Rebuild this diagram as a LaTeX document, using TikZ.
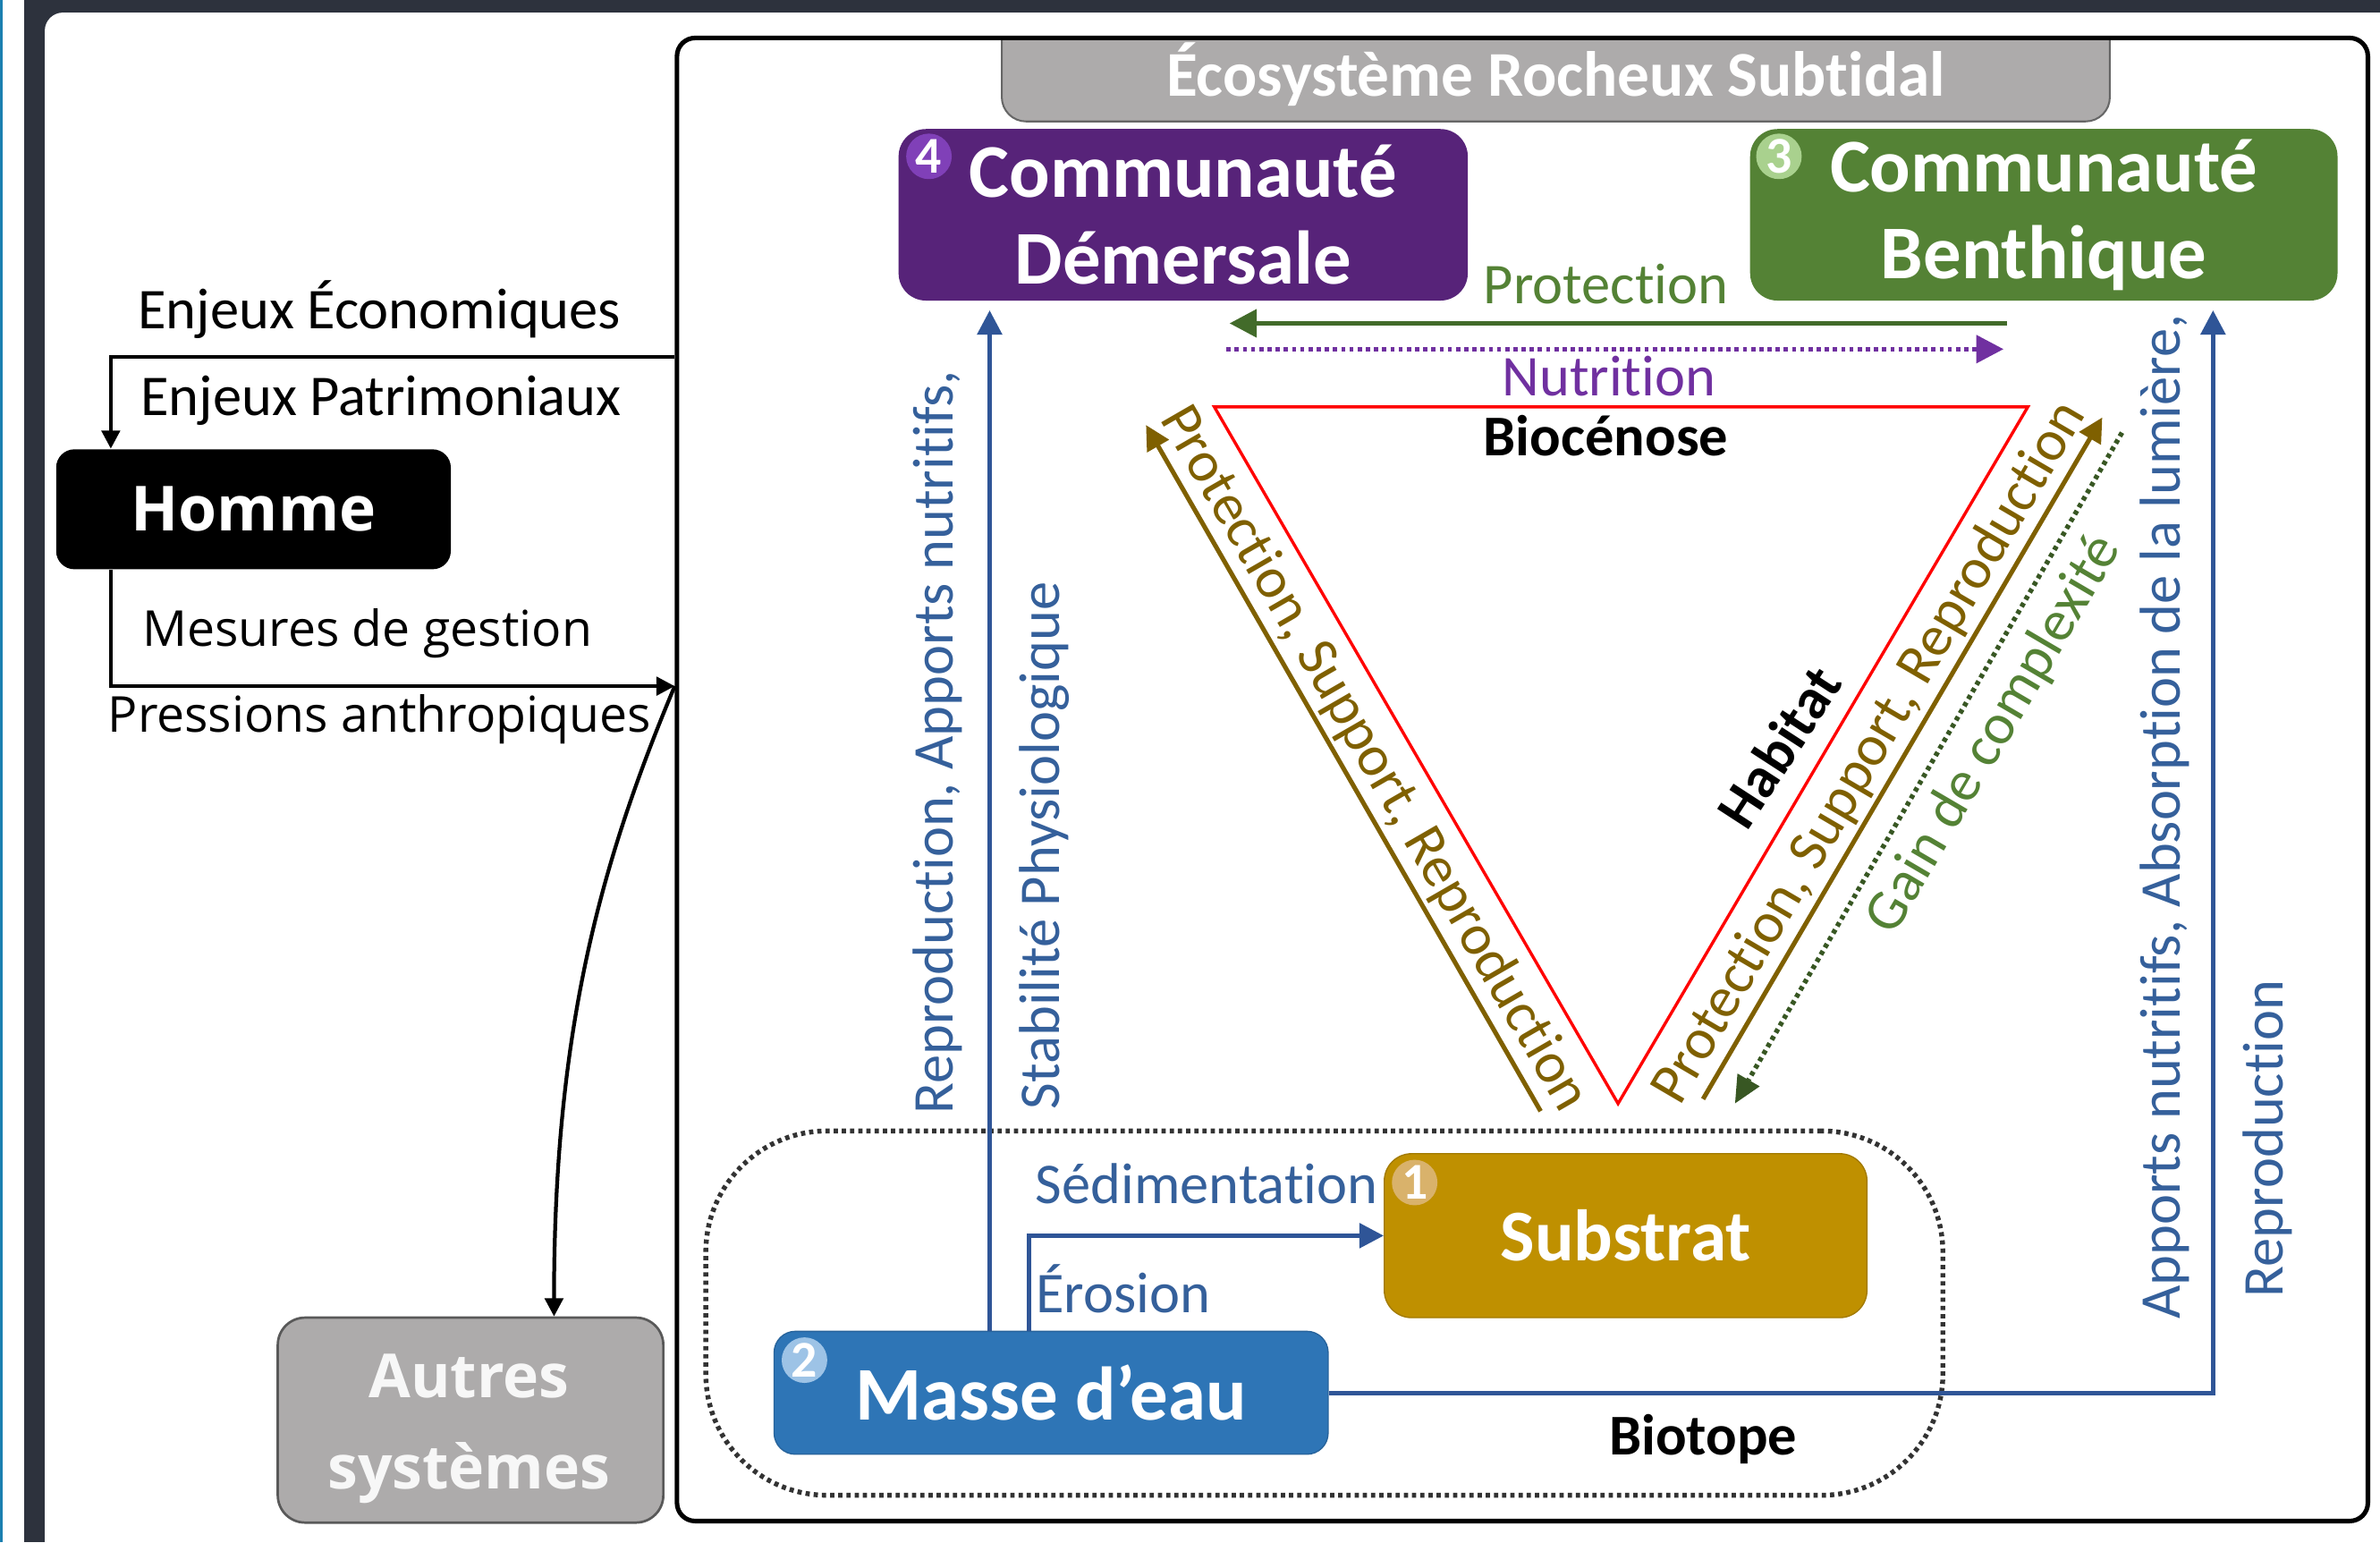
\documentclass[tikz,border=0pt]{standalone}
\usepackage{fontspec}
\setmainfont{Carlito}[Ligatures=NoCommon]
\newfontfamily\osans{Open Sans}
\usetikzlibrary{arrows.meta}
\definecolor{framec}{HTML}{2D323D}
\definecolor{edgeblue}{HTML}{1B7FB0}
\definecolor{purpbox}{HTML}{572379}
\definecolor{purpbadge}{HTML}{8040B8}
\definecolor{greenbox}{HTML}{548235}
\definecolor{greenbadge}{HTML}{A9D18E}
\definecolor{goldbox}{HTML}{BF9000}
\definecolor{goldbadge}{HTML}{D9B26B}
\definecolor{bluebox}{HTML}{2E75B6}
\definecolor{bluebadge}{HTML}{9DC3E6}
\definecolor{arrblue}{HTML}{2F5597}
\definecolor{txtblue}{HTML}{35609B}
\definecolor{brownc}{HTML}{7F6000}
\definecolor{protgreen}{HTML}{426B2A}
\definecolor{txtgreen}{HTML}{548235}
\definecolor{nutpurple}{HTML}{7030A0}
\definecolor{greybox}{HTML}{ADABAB}
\definecolor{gaingreen}{HTML}{385723}
\tikzset{
  box/.style={rectangle, rounded corners=9pt, inner sep=0pt, text=white,
    font=\fontsize{25}{28.5}\selectfont\bfseries, align=center},
  badge/.style={circle, inner sep=0pt, minimum size=15pt, text=white,
    font=\fontsize{17}{17}\selectfont\bfseries},
  lbl/.style={inner sep=0pt, font=\fontsize{19}{21}\selectfont},
  lblb/.style={inner sep=0pt, font=\fontsize{19}{21}\selectfont\bfseries},
  blk/.style={inner sep=0pt, font=\osans\fontsize{16.3}{18}\selectfont},
  flow/.style={line width=1.5pt, draw=arrblue, -{Triangle[length=8pt,width=8pt]}},
  bflow/.style={line width=1.5pt, draw=brownc, -{Triangle[length=8pt,width=8pt]}},
  kflow/.style={line width=1.25pt, draw=black, -{Triangle[length=6pt,width=6pt]}},
  dotl/.style={line width=1.6pt, dash pattern=on 1.4pt off 1.3pt},
}
\begin{document}
\begin{tikzpicture}[x=0.5pt,y=-0.5pt]
\useasboundingbox (0,0) rectangle (1568,1016);
% background frame
\fill[white] (0,0) rectangle (1568,1016);
\fill[edgeblue] (0,0) rectangle (1.8,1016);
\fill[framec] (16,0) rectangle (1568,1016);
\fill[white, rounded corners=6pt] (29.5,8.3) rectangle (1640,1080);

% title tab
\path[fill=greybox, draw=black!60, line width=0.6pt, rounded corners=8pt]
  (660,25) -- (660,80) -- (1390,80) -- (1390,25);
\node[font=\fontsize{21}{21}\selectfont\bfseries, text=white] (title) at (1025,49) {Écosystème Rocheux Subtidal};

% main ecosystem box
\node[draw, line width=1.5pt, rounded corners=6pt, minimum width=557pt,
  minimum height=488.5pt, inner sep=0pt] (eco) at (1003,513.5) {};

% biotope region
\node[draw=black!80, dotl, rounded corners=40pt, minimum width=407.5pt,
  minimum height=120pt, inner sep=0pt] (biotope) at (872.5,865) {};

% coordinates
\coordinate (xa) at (652,0);
\coordinate (xb) at (678,0);
\coordinate (xc) at (1458,0);
\coordinate (xh) at (73,0);
\coordinate (ye) at (0,235);
\coordinate (ym) at (0,452);
\coordinate (t1) at (800,268);
\coordinate (t2) at (1336,268);
\coordinate (t3) at (1066,727);
\coordinate (pl1) at (1015,732);
\coordinate (pl2) at (755,280);
\coordinate (pr1) at (1122,724);
\coordinate (pr2) at (1385,275);
\coordinate (ga1) at (1398,285);
\coordinate (ga2) at (1143,727);
\coordinate (po1) at (1322,213);
\coordinate (po2) at (810,213);
\coordinate (nu1) at (808,230);
\coordinate (nu2) at (1320,230);

% triangle
\draw[red, line width=1pt] (t1) -- (t2) -- (t3) -- cycle;

% boxes
\node[box, fill=purpbox, minimum width=187.5pt, minimum height=56.5pt] (dem) at (779.5,141.5) {Communauté\\Démersale};
\node[badge, fill=purpbadge] (b4) at (612,103) {4};
\node[box, fill=greenbox, minimum width=193.5pt, minimum height=56.5pt] (ben) at (1346.5,141.5) {Communauté\\Benthique};
\node[badge, fill=greenbadge] (b3) at (1172,103) {3};
\node[box, fill=goldbox, draw=goldbox!85!black, minimum width=159pt, minimum height=54pt,
  font=\fontsize{24}{24}\selectfont\bfseries] (sub) at (1071,814) {Substrat};
\node[badge, fill=goldbadge] (b1) at (932,779) {1};
\node[box, fill=bluebox, draw=bluebox!85!black, minimum width=182.5pt, minimum height=40.5pt,
  rounded corners=7pt] (masse) at (692.5,917.5) {Masse d’eau};
\node[badge, fill=bluebadge] (b2) at (530,896) {2};
\node[box, fill=black, rounded corners=6pt, minimum width=130pt, minimum height=39.5pt,
  font=\osans\bfseries\fontsize{20.5}{20.5}\selectfont] (homme) at (167,335.5) {Homme};
\node[box, fill=greybox, draw=black!65, line width=0.8pt, rounded corners=9pt,
  minimum width=127pt, minimum height=67.5pt] (autres) at (310,935.5) {};
\node[inner sep=0pt, align=center, text=white!97!black,
  font=\osans\bfseries\fontsize{20}{30}\selectfont] (autrestxt) at (309,941) {Autres\\systèmes};

% blue flows
\draw[flow, shorten >=3pt] (masse.north -| xa) -- (dem.south -| xa);
\draw[flow, shorten >=3pt] (masse.east) -- (masse.east -| xc) -- (ben.south -| xc);
\draw[flow] (masse.north -| xb) |- (sub.west);

% biocenose flows
\draw[line width=1.75pt, draw=protgreen, -{Triangle[length=9pt,width=9pt]}] (po1) -- (po2);
\draw[dotl, draw=nutpurple, -{Triangle[length=9pt,width=9pt]}] (nu1) -- (nu2);
\draw[bflow] (pl1) -- (pl2);
\draw[bflow] (pr1) -- (pr2);
\draw[dotl, draw=gaingreen, -{Triangle[length=9pt,width=8pt]}] (ga1) -- (ga2);

% human connectors
\draw[kflow] (eco.west |- ye) -| (homme.north -| xh);
\draw[kflow] (homme.south -| xh) |- (eco.west |- ym);
\draw[kflow] (eco.west |- ym) .. controls (395,570) and (365,680) .. ([xshift=27.5pt]autres.north);

% labels
\node[lbl] (lee) at (250,204) {Enjeux Économiques};
\node[lbl] (lep) at (251,264) {Enjeux Patrimoniaux};
\node[blk] (lmg) at (242,417) {Mesures de gestion};
\node[blk] (lpa) at (250,474) {Pressions anthropiques};
\node[lbl, text=txtgreen] (lprot) at (1058,187) {Protection};
\node[lbl, text=nutpurple] (lnut) at (1060,248) {Nutrition};
\node[lblb] (lbio) at (1058,287) {Biocénose};
\node[lbl, text=brownc, rotate=-60] (lpl) at (905,500) {Protection, Support, Reproduction};
\node[lbl, text=brownc, rotate=59.6] (lpr) at (1232,496) {Protection, Support, Reproduction};
\node[lbl, text=txtgreen, rotate=59.6] (lga) at (1314,484) {Gain de complexité};
\node[lblb, rotate=57] (lhab) at (1172,492) {Habitat};
\node[lbl, text=txtblue, rotate=90] (lra) at (618,489) {Reproduction, Apports nutritifs,};
\node[lbl, text=txtblue, rotate=90] (lsp) at (688,557) {Stabilité Physiologique};
\node[lbl, text=txtblue, rotate=90] (lan) at (1426,538) {Apports nutritifs, Absorption de la lumière,};
\node[lbl, text=txtblue, rotate=90] (lrep) at (1494,750) {Reproduction};
\node[lbl, text=txtblue] (lsed) at (795,780) {Sédimentation};
\node[lbl, text=txtblue] (lero) at (740,849) {Érosion};
\node[lblb] (lbiot) at (1122,948) {Biotope};
\end{tikzpicture}
\end{document}
